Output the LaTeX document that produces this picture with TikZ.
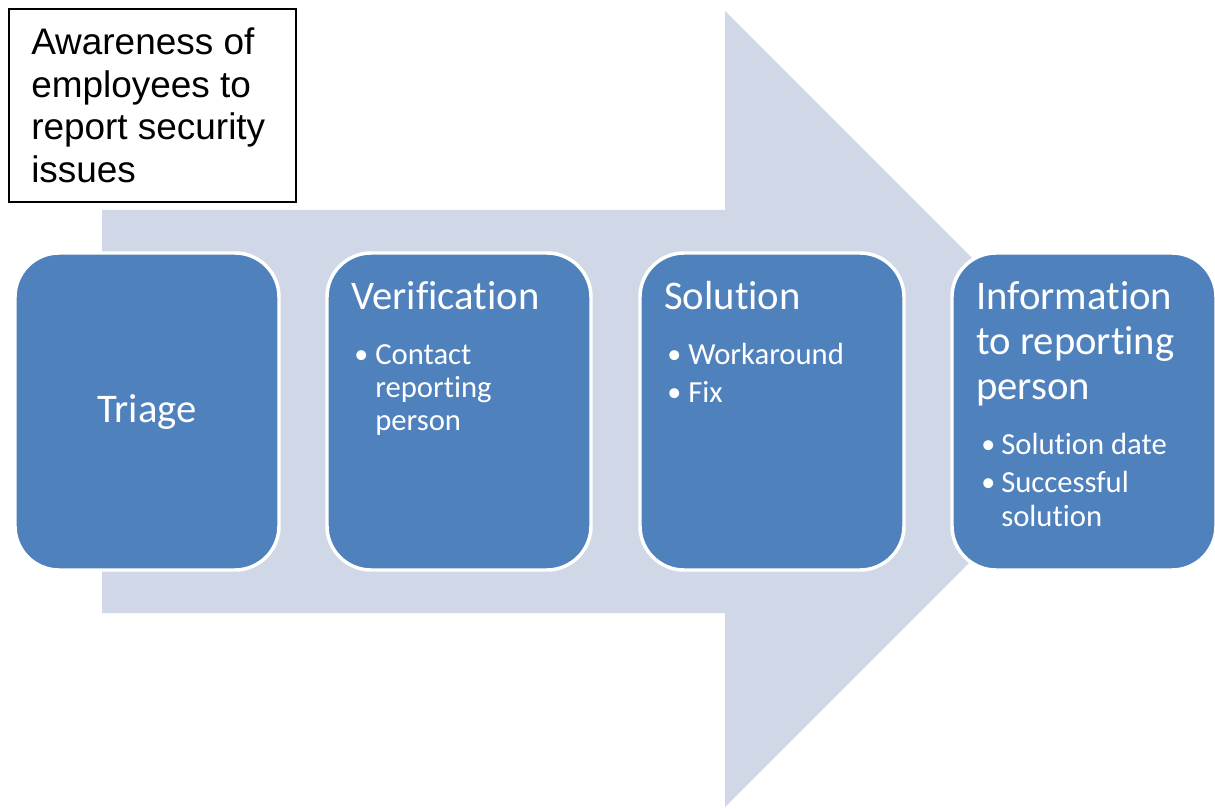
\documentclass[tikz,border=0pt]{standalone}
\usepackage{fontspec}
\setmainfont{Carlito}[Ligatures=NoCommon]
\newfontfamily\arialfont{Liberation Sans}
\definecolor{stepblue}{HTML}{4F81BD}
\definecolor{arrowfill}{HTML}{D0D8E8}
\begin{document}
\begin{tikzpicture}[x=0.75pt,y=-0.75pt,
  stepbox/.style={draw=white,line width=2.6pt,fill=stepblue,rounded corners=33pt},
  title/.style={anchor=base west,inner sep=0pt,text=white,font=\fontsize{30.5}{34}\selectfont},
  item/.style={anchor=base west,inner sep=0pt,text=white,font=\fontsize{23}{26}\selectfont},
  dot/.style={anchor=base west,inner sep=0pt,text=white,font=\fontsize{21}{26}\selectfont},
  note/.style={anchor=base west,inner sep=0pt,text=black,font=\arialfont\fontsize{27.7}{32}\selectfont}]
\useasboundingbox (0,0) rectangle (1215,809);
% big process arrow behind the steps
\fill[arrowfill] (102,210) -- (725,210) -- (725,11) -- (1123,409) -- (725,807) -- (725,613) -- (102,613) -- cycle;
% the four steps
\draw[stepbox] (15,253) rectangle (279,570);
\draw[stepbox] (327,253) rectangle (591,570);
\draw[stepbox] (640,253) rectangle (904,570);
\draw[stepbox] (952,253) rectangle (1216,570);
% step 1
\node[anchor=base,inner sep=0pt,text=white,font=\fontsize{30.5}{34}\selectfont] (t1) at (147,423) {Triage};
% step 2
\node[title] (t2) at (351,310) {Verification};
\node[dot] (d21) at (354,364) {•};
\node[item] (i21) at (375,365) {Contact};
\node[item] (i22) at (375,398) {reporting};
\node[item] (i23) at (375,431) {person};
% step 3
\node[title] (t3) at (664,310) {Solution};
\node[dot] (d31) at (667,364) {•};
\node[item] (i31) at (688,365) {Workaround};
\node[dot] (d32) at (667,402) {•};
\node[item] (i32) at (688,403) {Fix};
% step 4
\node[title] (t41) at (976,310) {Information};
\node[title] (t42) at (976,355) {to reporting};
\node[title] (t43) at (976,400) {person};
\node[dot] (d41) at (981,454) {•};
\node[item] (i41) at (1001,455) {Solution date};
\node[dot] (d42) at (981,492) {•};
\node[item] (i42) at (1001,493) {Successful};
\node[item] (i43) at (1001,527) {solution};
% awareness note
\draw[black,line width=1.1pt,fill=white] (9,9) rectangle (296,202);
\node[note] (n1) at (31,55) {Awareness of};
\node[note] (n2) at (31,98) {employees to};
\node[note] (n3) at (31,140) {report security};
\node[note] (n4) at (31,183) {issues};
\end{tikzpicture}
\end{document}
